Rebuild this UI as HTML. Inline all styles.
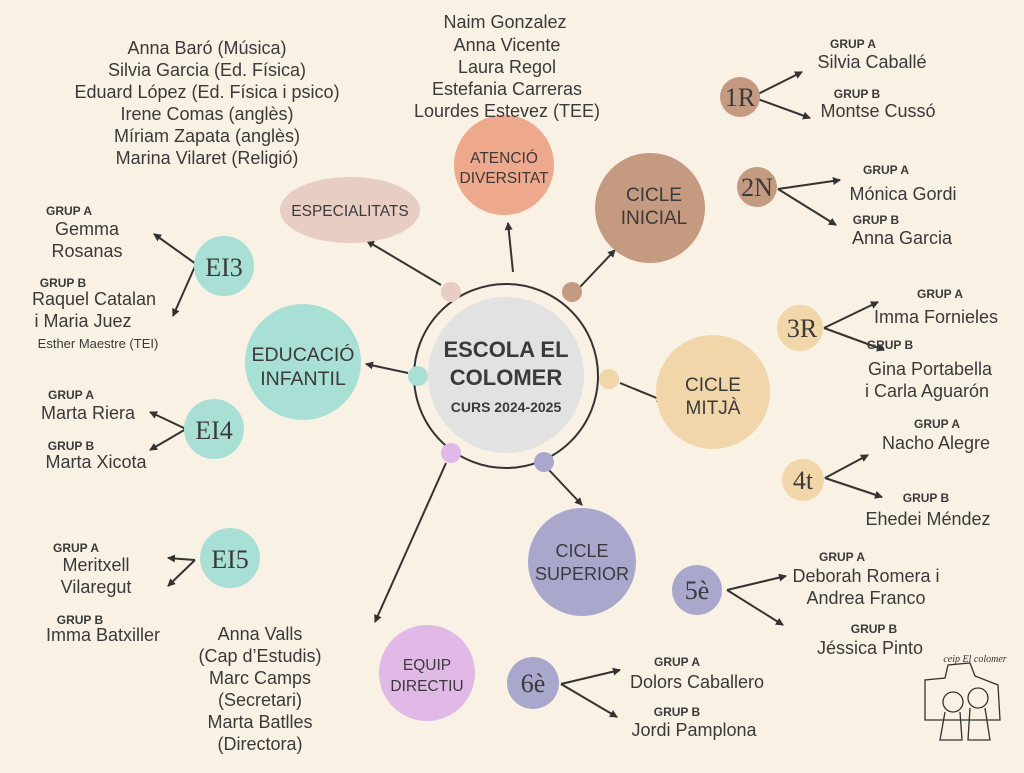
<!DOCTYPE html>
<html><head><meta charset="utf-8"><style>
body{margin:0;width:1024px;height:768px;overflow:hidden;background:#f8f1e4;}
svg text{font-family:"Liberation Sans",sans-serif;fill:#3a3a3a;}
.n{font-size:18px;text-anchor:middle}
.g{font-size:12px;font-weight:bold;text-anchor:middle}
.t{font-size:17px;text-anchor:middle;fill:#3a3a3a}
.s{font-family:"Liberation Serif",serif !important;font-size:26px;text-anchor:middle}
</style></head><body>
<svg width="1024" height="768" viewBox="0 0 1024 768" xmlns="http://www.w3.org/2000/svg">
<defs><marker id="a" markerWidth="8" markerHeight="8" refX="7" refY="4" orient="auto" markerUnits="userSpaceOnUse"><path d="M0,0 L8,4 L0,8 z" fill="#333"/></marker></defs>
<g stroke="#333" stroke-width="2" fill="none" marker-end="url(#a)">
<line x1="441" y1="285" x2="367" y2="241"/>
<line x1="513" y1="272" x2="508" y2="223"/>
<line x1="580" y1="287" x2="615" y2="250"/>
<line x1="408" y1="373" x2="366" y2="364"/>
<line x1="620" y1="383" x2="664" y2="401"/>
<line x1="549" y1="470" x2="582" y2="505"/>
<line x1="446" y1="463" x2="375" y2="622"/>
<path d="M752,97 L802,72" /><path d="M752,97 L810,118"/>
<path d="M778,189 L840,180"/><path d="M778,189 L836,225"/>
<path d="M824,328 L878,302"/><path d="M824,328 L884,350"/>
<path d="M825,478 L868,455"/><path d="M825,478 L882,497"/>
<path d="M727,590 L786,576"/><path d="M727,590 L783,625"/>
<path d="M561,684 L620,670"/><path d="M561,684 L617,717"/>
<path d="M196,264 L154,234"/><path d="M196,264 L173,316"/>
<path d="M186,429 L150,412"/><path d="M186,429 L150,450"/>
<path d="M195,560 L168,558"/><path d="M195,560 L168,586"/>
</g>
<circle cx="506" cy="376" r="92" fill="none" stroke="#333" stroke-width="2"/>
<circle cx="506" cy="375" r="78" fill="#e2e2e2"/>
<text x="506" y="357" style="font-size:22px;font-weight:bold;text-anchor:middle">ESCOLA EL</text>
<text x="506" y="385" style="font-size:22px;font-weight:bold;text-anchor:middle">COLOMER</text>
<text x="506" y="412" style="font-size:14px;font-weight:bold;text-anchor:middle">CURS 2024-2025</text>
<circle cx="451" cy="292" r="10" fill="#e8cdc3"/>
<circle cx="572" cy="292" r="10" fill="#c49a80"/>
<circle cx="418" cy="376" r="10" fill="#a8e0d6"/>
<circle cx="609" cy="379" r="10" fill="#f0d6a8"/>
<circle cx="451" cy="453" r="10" fill="#e0b9e6"/>
<circle cx="544" cy="462" r="10" fill="#a9a8cc"/>
<ellipse cx="350" cy="210" rx="70" ry="33" fill="#e8cdc3"/>
<text x="350" y="216" class="t" style="font-size:15.5px">ESPECIALITATS</text>
<circle cx="504" cy="165" r="50" fill="#eea98c"/>
<text x="504" y="163" class="t" style="font-size:15.5px">ATENCIÓ</text>
<text x="504" y="183" class="t" style="font-size:15.5px">DIVERSITAT</text>
<circle cx="650" cy="208" r="55" fill="#c49a80"/>
<text x="654" y="201" class="t" style="font-size:19px">CICLE</text>
<text x="654" y="224" class="t" style="font-size:19px">INICIAL</text>
<circle cx="303" cy="362" r="58" fill="#a8e0d6"/>
<text x="303" y="361" class="t" style="font-size:19.5px">EDUCACIÓ</text>
<text x="303" y="385" class="t" style="font-size:19.5px">INFANTIL</text>
<circle cx="713" cy="392" r="57" fill="#f0d6a8"/>
<text x="713" y="391" class="t" style="font-size:19px">CICLE</text>
<text x="713" y="414" class="t" style="font-size:19px">MITJÀ</text>
<circle cx="582" cy="562" r="54" fill="#a9a8cc"/>
<text x="582" y="557" class="t" style="font-size:18px">CICLE</text>
<text x="582" y="580" class="t" style="font-size:18px">SUPERIOR</text>
<circle cx="427" cy="673" r="48" fill="#e0b9e6"/>
<text x="427" y="670" class="t" style="font-size:15.5px">EQUIP</text>
<text x="427" y="691" class="t" style="font-size:15.5px">DIRECTIU</text>
<circle cx="740" cy="97" r="20" fill="#c49a80"/><text x="740" y="106" class="s">1R</text>
<circle cx="757" cy="187" r="20" fill="#c49a80"/><text x="757" y="196" class="s">2N</text>
<circle cx="800" cy="328" r="23" fill="#f0d6a8"/><text x="802" y="337" class="s">3R</text>
<circle cx="803" cy="480" r="21" fill="#f0d6a8"/><text x="803" y="489" class="s">4t</text>
<circle cx="697" cy="590" r="25" fill="#a9a8cc"/><text x="697" y="599" class="s">5è</text>
<circle cx="533" cy="683" r="26" fill="#a9a8cc"/><text x="533" y="692" class="s">6è</text>
<circle cx="224" cy="266" r="30" fill="#a8e0d6"/><text x="224" y="276" class="s">EI3</text>
<circle cx="214" cy="429" r="30" fill="#a8e0d6"/><text x="214" y="439" class="s">EI4</text>
<circle cx="230" cy="558" r="30" fill="#a8e0d6"/><text x="230" y="568" class="s">EI5</text>
<text x="505" y="28" class="n">Naim Gonzalez</text>
<text x="507" y="51" class="n">Anna Vicente</text>
<text x="507" y="73" class="n">Laura Regol</text>
<text x="507" y="95" class="n">Estefania Carreras</text>
<text x="507" y="117" class="n">Lourdes Estevez (TEE)</text>
<text x="207" y="54" class="n">Anna Baró (Música)</text>
<text x="207" y="76" class="n">Silvia Garcia (Ed. Física)</text>
<text x="207" y="98" class="n">Eduard López (Ed. Física i psico)</text>
<text x="207" y="120" class="n">Irene Comas (anglès)</text>
<text x="207" y="142" class="n">Míriam Zapata (anglès)</text>
<text x="207" y="164" class="n">Marina Vilaret (Religió)</text>
<text x="853" y="48" class="g">GRUP A</text><text x="872" y="68" class="n">Silvia Caballé</text>
<text x="857" y="98" class="g">GRUP B</text><text x="878" y="117" class="n">Montse Cussó</text>
<text x="886" y="174" class="g">GRUP A</text><text x="903" y="200" class="n">Mónica Gordi</text>
<text x="876" y="224" class="g">GRUP B</text><text x="902" y="244" class="n">Anna Garcia</text>
<text x="940" y="298" class="g">GRUP A</text><text x="936" y="323" class="n">Imma Fornieles</text>
<text x="890" y="349" class="g">GRUP B</text><text x="930" y="375" class="n">Gina Portabella</text><text x="927" y="397" class="n">i Carla Aguarón</text>
<text x="937" y="428" class="g">GRUP A</text><text x="936" y="449" class="n">Nacho Alegre</text>
<text x="926" y="502" class="g">GRUP B</text><text x="928" y="525" class="n">Ehedei Méndez</text>
<text x="842" y="561" class="g">GRUP A</text><text x="866" y="582" class="n">Deborah Romera i</text><text x="866" y="604" class="n">Andrea Franco</text>
<text x="874" y="633" class="g">GRUP B</text><text x="870" y="654" class="n">Jéssica Pinto</text>
<text x="677" y="666" class="g">GRUP A</text><text x="697" y="688" class="n">Dolors Caballero</text>
<text x="677" y="716" class="g">GRUP B</text><text x="694" y="736" class="n">Jordi Pamplona</text>
<text x="260" y="640" class="n">Anna Valls</text>
<text x="260" y="662" class="n">(Cap d’Estudis)</text>
<text x="260" y="684" class="n">Marc Camps</text>
<text x="260" y="706" class="n">(Secretari)</text>
<text x="260" y="728" class="n">Marta Batlles</text>
<text x="260" y="750" class="n">(Directora)</text>
<text x="69" y="215" class="g">GRUP A</text><text x="87" y="235" class="n">Gemma</text><text x="87" y="257" class="n">Rosanas</text>
<text x="63" y="287" class="g">GRUP B</text><text x="94" y="305" class="n">Raquel Catalan</text><text x="83" y="327" class="n">i Maria Juez</text>
<text x="98" y="348" style="font-size:13px;text-anchor:middle">Esther Maestre (TEI)</text>
<text x="71" y="399" class="g">GRUP A</text><text x="88" y="419" class="n">Marta Riera</text>
<text x="71" y="450" class="g">GRUP B</text><text x="96" y="468" class="n">Marta Xicota</text>
<text x="76" y="552" class="g">GRUP A</text><text x="96" y="571" class="n">Meritxell</text><text x="96" y="593" class="n">Vilaregut</text>
<text x="80" y="624" class="g">GRUP B</text><text x="103" y="641" class="n">Imma Batxiller</text>
<g stroke="#333" stroke-width="1.3" fill="none">
<text x="975" y="662" style="font-family:'Liberation Serif',serif;font-style:italic;font-size:10px;text-anchor:middle;fill:#333;stroke:none">ceip El colomer</text>
<path d="M925,700 L925,680 L945,678 L948,665 L970,663 L975,676 L998,685 L1000,720 L925,720 Z"/>
<circle cx="953" cy="702" r="10"/><circle cx="978" cy="698" r="10"/>
<path d="M945,712 L940,740 L962,740 L960,712"/><path d="M970,708 L968,740 L990,740 L985,708"/>
</g>
</svg>
</body></html>
